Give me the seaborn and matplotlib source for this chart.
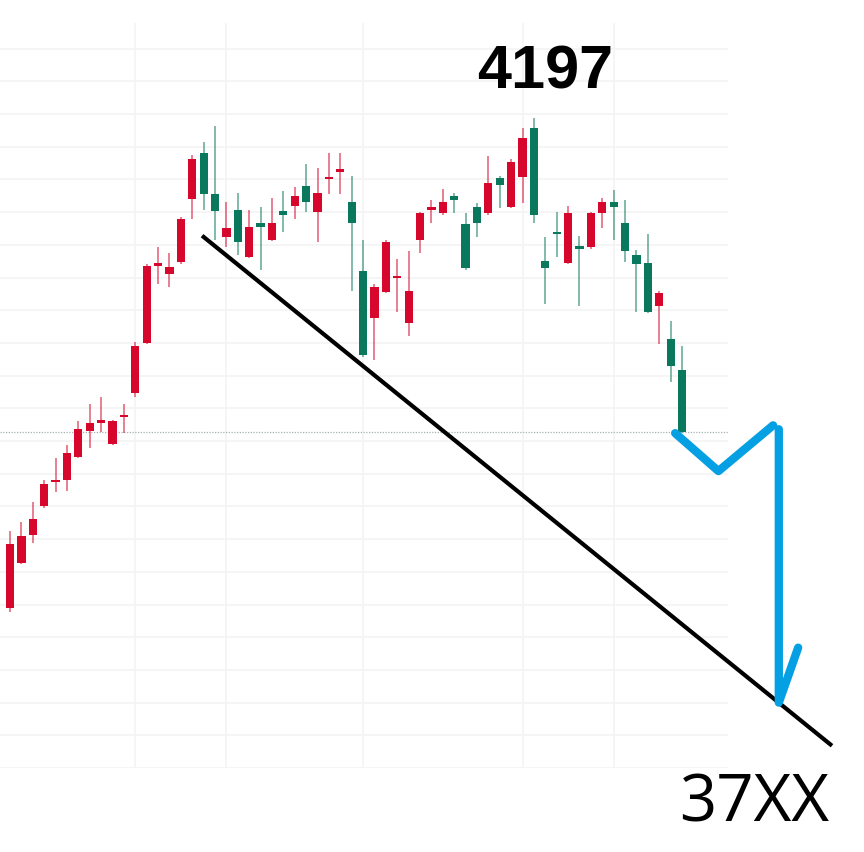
import numpy as np
import pandas as pd
import seaborn as sns
import matplotlib.pyplot as plt

# Daily candles (price levels)
opens = [3822, 3857, 3878, 3900, 3919, 3920, 3938, 3958, 3964, 3948, 3968, 3987,
         4025, 4084, 4078, 4087, 4135, 4170, 4139, 4106, 4127, 4091, 4117, 4104,
         4126, 4130, 4145, 4125, 4150, 4156, 4133, 4080, 4044, 4064, 4075, 4040,
         4104, 4127, 4124, 4137, 4116, 4129, 4124, 4151, 4129, 4152, 4189, 4088,
         4110, 4086, 4099, 4098, 4124, 4133, 4117, 4092, 4086, 4053, 4028, 4004]
highs = [3881, 3888, 3903, 3920, 3937, 3947, 3965, 3978, 3984, 3966, 3978, 4026,
         4085, 4098, 4094, 4121, 4169, 4179, 4191, 4133, 4140, 4127, 4129, 4136,
         4141, 4144, 4162, 4159, 4170, 4170, 4153, 4104, 4070, 4104, 4089, 4095,
         4125, 4134, 4143, 4140, 4124, 4132, 4168, 4153, 4166, 4189, 4197, 4106,
         4125, 4130, 4107, 4125, 4136, 4142, 4134, 4096, 4108, 4065, 4042, 4023]
lows = [3819, 3856, 3872, 3899, 3911, 3912, 3937, 3945, 3957, 3947, 3956, 3984,
        4024, 4070, 4068, 4085, 4120, 4127, 4104, 4098, 4092, 4090, 4081, 4103,
        4110, 4120, 4125, 4102, 4139, 4139, 4065, 4014, 4012, 4063, 4049, 4030,
        4094, 4117, 4123, 4124, 4081, 4106, 4123, 4128, 4128, 4132, 4117, 4055,
        4091, 4085, 4053, 4097, 4113, 4104, 4087, 4049, 4048, 4024, 3995, 3956]
closes = [3871, 3877, 3890, 3917, 3920, 3941, 3959, 3964, 3966, 3965, 3970, 4023,
          4084, 4086, 4083, 4120, 4166, 4139, 4126, 4113, 4102, 4114, 4114, 4117,
          4123, 4137, 4133, 4140, 4151, 4158, 4117, 4016, 4068, 4102, 4076, 4065,
          4124, 4129, 4133, 4134, 4082, 4117, 4147, 4146, 4163, 4182, 4123, 4082,
          4108, 4124, 4097, 4124, 4133, 4129, 4095, 4085, 4049, 4063, 4007, 3957]

# candle index where a new month starts (vertical grid)
month_breaks = [11, 19, 31, 45, 53]
price_grid = list(range(3700, 4275, 25))

# hand-drawn annotations (candle index, price)
trend_line = [(16.86, 4107), (72.17, 3717)]
blue_wave = [(58.4, 3956), (62.2, 3927), (67.0, 3962)]
blue_drop = [(67.5, 3959), (67.5, 3750), (69.2, 3792)]
peak_label = "4197"
target_label = "37XX"

df = pd.DataFrame({"open": opens, "high": highs, "low": lows, "close": closes})
df["idx"] = np.arange(len(df))
df["up"] = df["close"] >= df["open"]

sns.set_theme(style="white")

fig = plt.figure(figsize=(8.64, 8.52), dpi=100)
ax = fig.add_axes([0, 0.0986, 0.8426, 0.8744])

red, green = "#d7062c", "#0a785c"
colors = np.where(df["up"], red, green)

# wicks then bodies
ax.vlines(df["idx"], df["low"], df["high"], colors=colors, linewidth=1.1, alpha=0.65, zorder=2)
body_low = df[["open", "close"]].min(axis=1)
body_h = (df["close"] - df["open"]).abs().clip(lower=1.5)
ax.bar(df["idx"], body_h, bottom=body_low, width=0.72, color=colors, linewidth=0, zorder=3)

# last close dotted line
ax.axhline(closes[-1], color="#a7b3b3", linewidth=0.9, linestyle=(0, (1, 1.2)), zorder=1)

ax.set_xlim(-0.88, 63.04)
ax.set_ylim(3700, 4269.6)
ax.set_xticks(month_breaks)
ax.set_yticks(price_grid)
ax.set_xticklabels([])
ax.set_yticklabels([])
ax.tick_params(length=0)
ax.grid(True, color="#f4f4f4", linewidth=1.3, zorder=0)
sns.despine(ax=ax, left=True, bottom=True)

# trend line and projected path
tx, ty = zip(*trend_line)
ax.plot(tx, ty, color="black", linewidth=3.0, solid_capstyle="butt", clip_on=False, zorder=4)
bx, by = zip(*blue_wave)
ax.plot(bx, by, color="#05a0e4", linewidth=6, solid_capstyle="round",
        solid_joinstyle="round", clip_on=False, zorder=5)
dx, dy = zip(*blue_drop)
ax.plot(dx, dy, color="#05a0e4", linewidth=6, solid_capstyle="round",
        solid_joinstyle="round", clip_on=False, zorder=5)

# labels
peak_i = int(np.argmax(highs))
ax.annotate(peak_label, xy=(peak_i, highs[peak_i]), xytext=(11, 29), textcoords="offset pixels",
            ha="center", va="baseline", fontsize=44, fontweight="bold",
            family="Liberation Sans", color="black", annotation_clip=False)
ax.annotate(target_label, xy=blue_drop[1], xytext=(-25, -119), textcoords="offset pixels",
            ha="center", va="baseline", fontsize=47, family="Open Sans",
            color="black", annotation_clip=False)

fig.savefig("out.png", dpi=100, facecolor="white")
